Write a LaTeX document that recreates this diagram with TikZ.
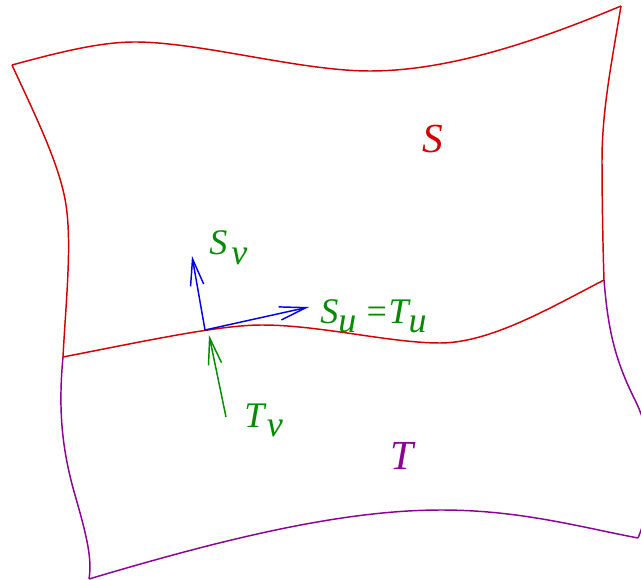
\documentclass[tikz,border=0pt]{standalone}
\usepackage{fontspec}
\setmainfont{Liberation Serif}
\usetikzlibrary{arrows.meta}
\definecolor{cRed}{RGB}{210,0,0}
\definecolor{cPurple}{RGB}{140,0,150}
\definecolor{cGreen}{RGB}{0,140,0}
\definecolor{cBlue}{RGB}{0,0,230}
\newcommand{\lowsub}[1]{\raisebox{-7pt}{\textit{#1}}}
\begin{document}
\begin{tikzpicture}[x=0.75pt,y=-0.75pt,
  edge/.style={line width=1.1pt, line join=round},
  vec/.style={line width=1.1pt,-{Straight Barb[length=20pt,width=10pt]}},
  small/.style={inner sep=0pt, anchor=base west, cGreen, font=\fontsize{27}{31}\selectfont\itshape},
  big/.style={inner sep=0pt, font=\fontsize{31}{36}\selectfont\itshape}]
\useasboundingbox (0,0) rectangle (641,580);
\clip (0,0) rectangle (641,580);
% corners
\coordinate (A) at (12,65);
\coordinate (B) at (621,6);
\coordinate (C) at (604,280);
\coordinate (D) at (63,357);
\coordinate (E) at (89,579);
\coordinate (F) at (638,538);
% S patch
\draw[edge, cRed] (A) .. controls (60,52) and (100,42) .. (135,42)
  .. controls (200,42) and (300,71) .. (370,71)
  .. controls (450,71) and (540,40) .. (B);
\draw[edge, cRed] (B) .. controls (612,60) and (602,110) .. (602,160)
  .. controls (602,200) and (603,250) .. (C);
\draw[edge, cRed] (A) .. controls (35,115) and (60,165) .. (66,205)
  .. controls (72,245) and (66,300) .. (D);
\draw[edge, cRed] (D) .. controls (150,340) and (220,325) .. (262,325)
  .. controls (320,325) and (390,343) .. (440,343)
  .. controls (490,343) and (550,308) .. (C);
% T patch
\draw[edge, cPurple] (D) .. controls (58,410) and (62,450) .. (75,495)
  .. controls (88,540) and (92,560) .. (E);
\draw[edge, cPurple] (E) .. controls (220,540) and (340,510) .. (441,510)
  .. controls (520,510) and (580,527) .. (F);
\draw[edge, cPurple] (C) .. controls (608,330) and (615,360) .. (635,400)
  .. controls (660,450) and (650,510) .. (F);
% vectors
\coordinate (O) at (205,330);
\coordinate (Sv) at (192,256);
\coordinate (Su) at (309,307);
\coordinate (Tvtail) at (226,417);
\coordinate (Tvtip) at (209,335);
\draw[vec, cBlue] (O) -- (Sv);
\draw[vec, cBlue] (O) -- (Su);
\draw[vec, cGreen] (Tvtail) -- (Tvtip);
% labels
\node[small] (lSv) at (209,255) {S\kern3pt\lowsub{v}};
\node[small] (lSu) at (320,323) {S\lowsub{u}\kern6pt=T\lowsub{u}};
\node[small] (lTv) at (244,427) {T\kern2pt\lowsub{v}};
\node[big, cRed] (lS) at (433,139) {S};
\node[big, cPurple] (lT) at (402,456) {T};
\end{tikzpicture}
\end{document}
